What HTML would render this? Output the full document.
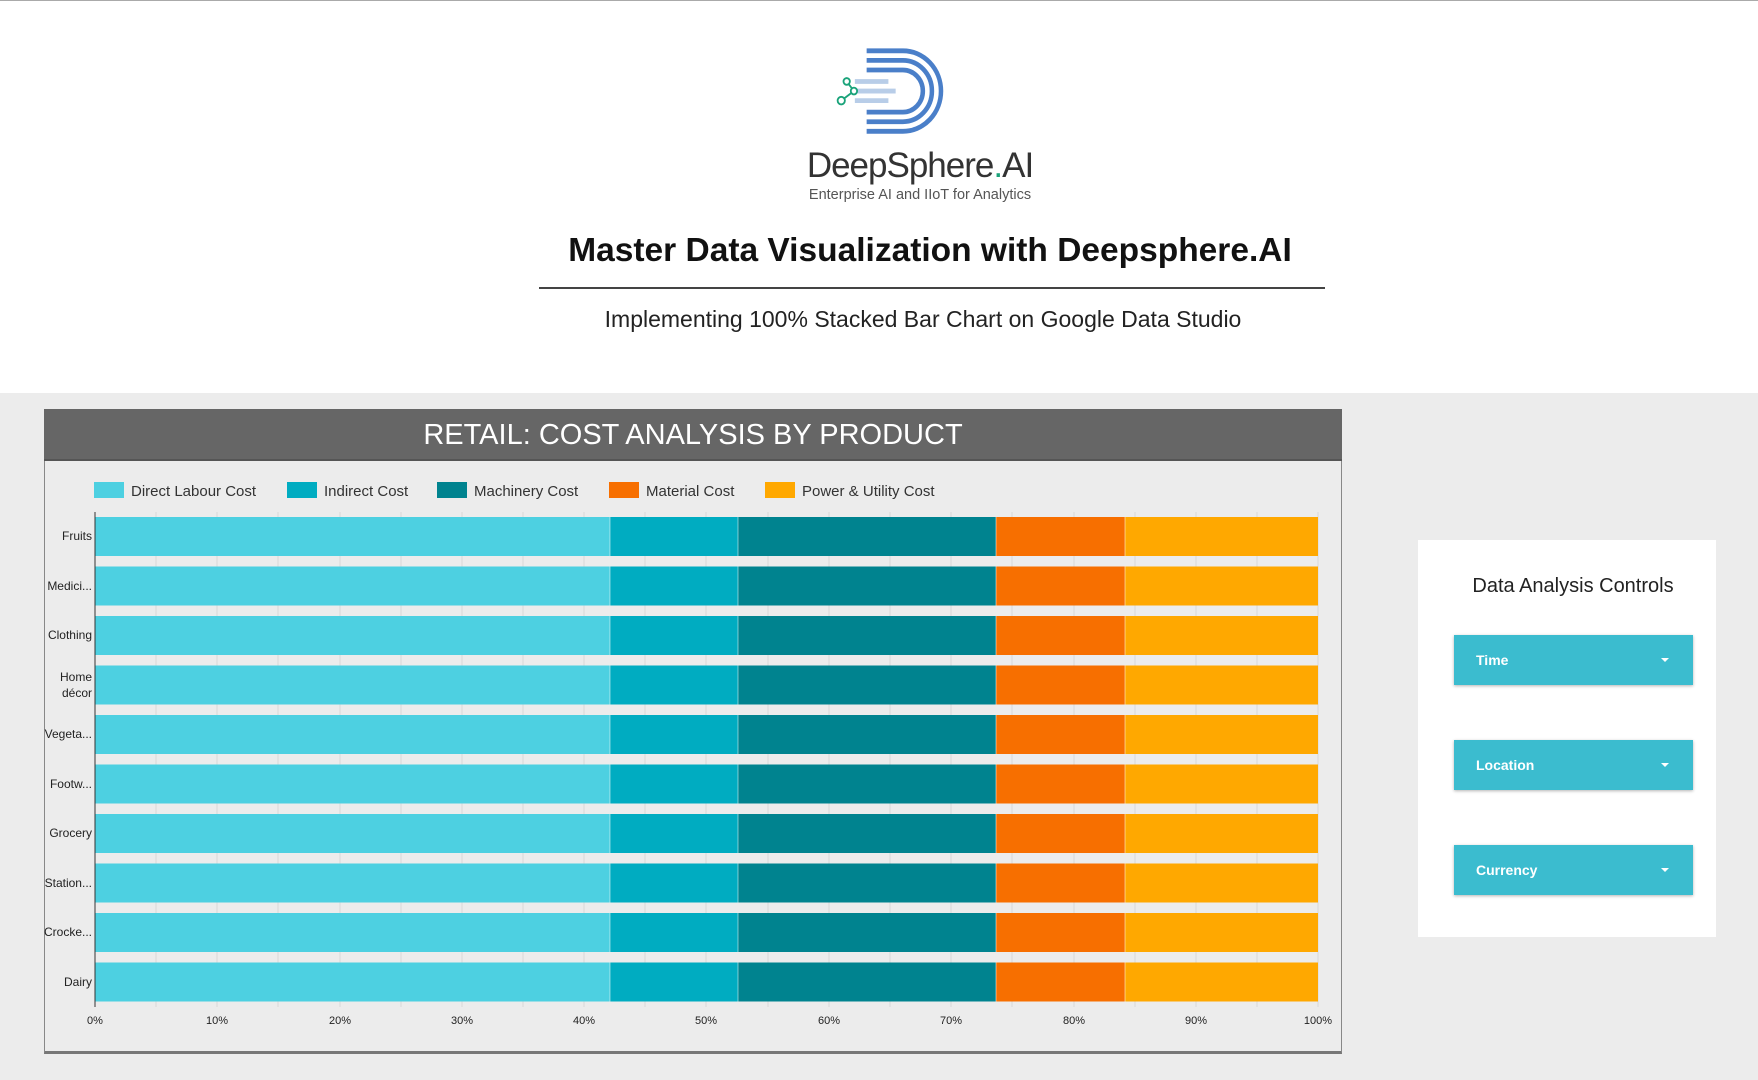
<!DOCTYPE html>
<html><head><meta charset="utf-8"><style>
body{margin:0;width:1758px;height:1080px;background:#ececec;position:relative;overflow:hidden;font-family:"Liberation Sans",sans-serif}
.abs{position:absolute}
.btn{position:absolute;left:1454px;width:239px;height:50px;background:#3bbccf;box-shadow:0 1px 3px rgba(0,0,0,.3);color:#fff;font-weight:bold;font-size:14px;line-height:50px;box-sizing:border-box;padding-left:22px}
.btn:after{content:"";position:absolute;right:24px;top:23px;border-left:4px solid transparent;border-right:4px solid transparent;border-top:4px solid #fff}
</style></head><body>
<div class="abs" style="left:0;top:0;width:1758px;height:393px;background:#fff;border-top:1px solid #aaa;box-sizing:border-box"></div>
<svg class="abs" style="left:834px;top:46px" width="136" height="92" viewBox="0 0 150 96" preserveAspectRatio="none">
<g fill="none" stroke="#4a7fc9" stroke-width="5">
<path d="M36 5 H76 A42 42 0 0 1 76 89 H36"/>
<path d="M36 15 H76 A32 32 0 0 1 76 79 H36"/>
<path d="M36 25 H76 A22 22 0 0 1 76 69 H36"/>
</g>
<g stroke="#b8cde8" stroke-width="5"><path d="M23 37H60M23 47H68M23 57H60"/></g>
<g stroke="#1aa37a" stroke-width="2" fill="#fff"><path d="M14 37 L22 47 L8 57" fill="none"/><circle cx="14" cy="37" r="3.5"/><circle cx="22" cy="47" r="3.5"/><circle cx="8" cy="57" r="4"/></g>
</svg>
<div class="abs" style="left:780px;top:146px;width:280px;text-align:center;font-size:35px;color:#333;letter-spacing:-1px">DeepSphere<span style="color:#1aa37a">.</span>AI</div>
<div class="abs" style="left:780px;top:187px;width:280px;text-align:center;font-size:14.5px;color:#555">Enterprise AI and IIoT for Analytics</div>
<div class="abs" style="left:480px;top:232px;width:900px;text-align:center;font-size:33.5px;font-weight:bold;color:#111">Master Data Visualization with Deepsphere.AI</div>
<div class="abs" style="left:539px;top:287px;width:786px;height:2px;background:#444"></div>
<div class="abs" style="left:480px;top:306px;width:886px;text-align:center;font-size:23px;color:#222">Implementing 100% Stacked Bar Chart on Google Data Studio</div>

<div class="abs" style="left:44px;top:409px;width:1298px;height:645px;border:1px solid #888;border-bottom:3px solid #777;box-sizing:border-box;background:#ececec"></div>
<div class="abs" style="left:44px;top:409px;width:1298px;height:52px;background:#666;color:#fff;font-size:29px;text-align:center;line-height:52px;border-bottom:2px solid #555;box-sizing:border-box">RETAIL: COST ANALYSIS BY PRODUCT</div>

<svg class="abs" style="left:0;top:0" width="1758" height="1080">
<g font-size="15" fill="#333" font-family="Liberation Sans, sans-serif">
<rect x="94" y="482" width="30" height="16" fill="#4dd0e1"/><text x="131" y="496">Direct Labour Cost</text>
<rect x="287" y="482" width="30" height="16" fill="#00acc1"/><text x="324" y="496">Indirect Cost</text>
<rect x="437" y="482" width="30" height="16" fill="#00838f"/><text x="474" y="496">Machinery Cost</text>
<rect x="609" y="482" width="30" height="16" fill="#f76f00"/><text x="646" y="496">Material Cost</text>
<rect x="765" y="482" width="30" height="16" fill="#ffa800"/><text x="802" y="496">Power &amp; Utility Cost</text>
</g>
<g stroke="#d8d8d8" stroke-width="1">
<path d="M156 512V1007M217 512V1007M278 512V1007M340 512V1007M401 512V1007M462 512V1007M523 512V1007M584 512V1007M645 512V1007M706 512V1007M768 512V1007M829 512V1007M890 512V1007M951 512V1007M1012 512V1007M1074 512V1007M1135 512V1007M1196 512V1007M1257 512V1007M1318 512V1007"/>
</g>
<defs><g id="row">
<rect x="95" y="0" width="515" height="39" fill="#4dd0e1"/>
<rect x="610" y="0" width="128" height="39" fill="#00acc1"/>
<rect x="738" y="0" width="258" height="39" fill="#00838f"/>
<rect x="996" y="0" width="129" height="39" fill="#f76f00"/>
<rect x="1125" y="0" width="193" height="39" fill="#ffa800"/>
<path d="M610 0V39M738 0V39M996 0V39M1125 0V39" stroke="#fff" stroke-opacity=".5" stroke-width="1"/>
</g></defs>
<use href="#row" y="517"/><use href="#row" y="566.5"/><use href="#row" y="616"/><use href="#row" y="665.5"/><use href="#row" y="715"/>
<use href="#row" y="764.5"/><use href="#row" y="814"/><use href="#row" y="863.5"/><use href="#row" y="913"/><use href="#row" y="962.5"/>
<path d="M95 512V1007" stroke="#333" stroke-width="1"/>
<g font-size="12" fill="#222" text-anchor="end" font-family="Liberation Sans, sans-serif">
<text x="92" y="540">Fruits</text><text x="92" y="590">Medici...</text><text x="92" y="639">Clothing</text>
<text x="92" y="681">Home</text><text x="92" y="697">décor</text>
<text x="92" y="738">Vegeta...</text><text x="92" y="788">Footw...</text><text x="92" y="837">Grocery</text>
<text x="92" y="887">Station...</text><text x="92" y="936">Crocke...</text><text x="92" y="986">Dairy</text>
</g>
<g font-size="11" fill="#222" text-anchor="middle" font-family="Liberation Sans, sans-serif">
<text x="95" y="1024">0%</text><text x="217" y="1024">10%</text><text x="340" y="1024">20%</text><text x="462" y="1024">30%</text><text x="584" y="1024">40%</text><text x="706" y="1024">50%</text><text x="829" y="1024">60%</text><text x="951" y="1024">70%</text><text x="1074" y="1024">80%</text><text x="1196" y="1024">90%</text><text x="1318" y="1024">100%</text>
</g>
</svg>

<div class="abs" style="left:1418px;top:540px;width:298px;height:397px;background:#fff"></div>
<div class="abs" style="left:1418px;top:575px;width:310px;text-align:center;font-size:20px;color:#222">Data Analysis Controls</div>
<div class="btn" style="top:635px">Time</div>
<div class="btn" style="top:740px">Location</div>
<div class="btn" style="top:845px">Currency</div>
</body></html>
